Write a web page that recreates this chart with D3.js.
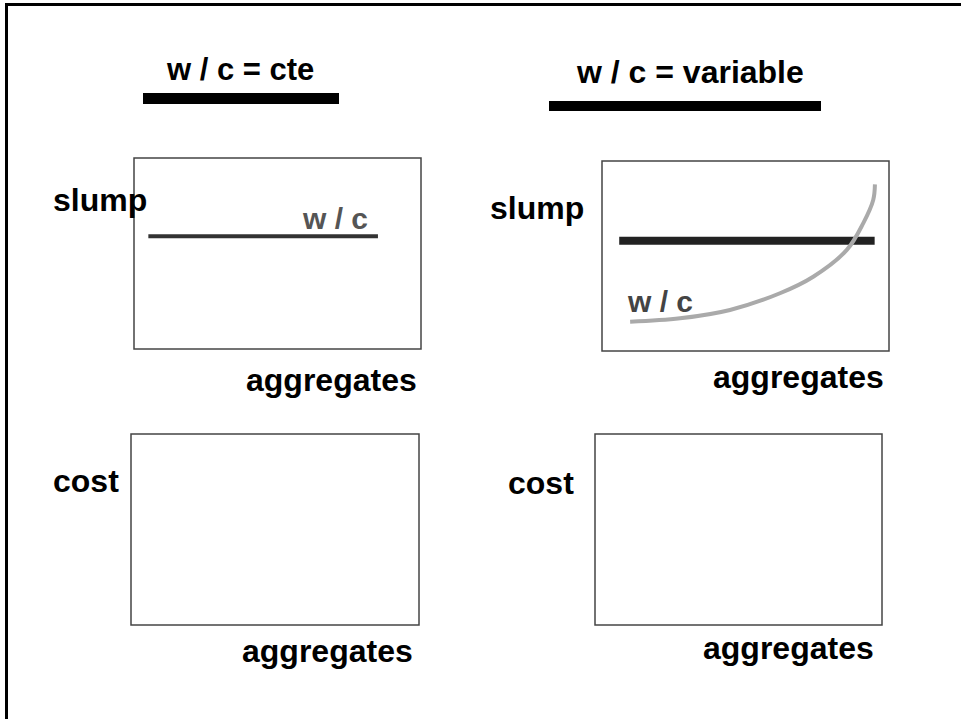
<!DOCTYPE html>
<html>
<head>
<meta charset="utf-8">
<script src="https://cdn.jsdelivr.net/npm/d3@7"></script>
<style>
  body { margin: 0; background: #fff; }
  text { font-family: "Liberation Sans", Arial, sans-serif; font-weight: bold; }
</style>
</head>
<body>
<div id="chart"></div>
<script>
////////////////////////////////////////////////////////////////////////
// Data (axes are unitless: aggregates 0-100, slump 0-100)

let columnTitles = ["w / c = cte", "w / c = variable"];
let rowLabels = ["slump", "cost"];
let xLabel = "aggregates";
let curveLabel = "w / c";

// left column: w/c constant, slump stays flat
let constSlumpLine = [[5, 59], [85, 59]];

// right column: target slump level and the w/c needed to keep it
let targetSlumpLine = [[6, 58], [95, 58]];
let variableWcCurve = [
  [9.8, 15.4], [27.2, 17.2], [44.6, 21.6], [62.0, 30.4],
  [73.6, 39.1], [85.3, 53.2], [91.0, 67.2], [94.5, 79.5], [95.1, 87.7]
];

////////////////////////////////////////////////////////////////////////
// Layout

let width = 961, height = 719;

let svg = d3.select("#chart").append("svg")
  .attr("width", width).attr("height", height);

// outer frame (only left and top edges fall inside the page)
svg.append("rect")
  .attr("x", 6.5).attr("y", 4.5)
  .attr("width", 1200).attr("height", 1200)
  .attr("fill", "none").attr("stroke", "#000").attr("stroke-width", 3);

// column headings with their thick underline bars
let heads = [
  {tx: 167, ty: 80, size: 31, bar: [143, 93, 196, 11]},
  {tx: 577, ty: 83, size: 32, bar: [549, 101, 272, 10]}
];
heads.forEach(function(h, i) {
  svg.append("text").attr("x", h.tx).attr("y", h.ty)
    .style("font-size", h.size + "px").text(columnTitles[i]);
  svg.append("rect")
    .attr("x", h.bar[0]).attr("y", h.bar[1])
    .attr("width", h.bar[2]).attr("height", h.bar[3])
    .attr("fill", "#000");
});

// one entry per panel: frame box, y label spot, x label spot
let panels = [
  {col: 0, row: 0, box: [134, 158, 421, 349], yl: [53, 211], xl: [246, 391]},
  {col: 1, row: 0, box: [602, 161, 889, 351], yl: [490, 219], xl: [713, 388]},
  {col: 0, row: 1, box: [131, 434, 419, 625], yl: [53, 492], xl: [242, 662]},
  {col: 1, row: 1, box: [595, 434, 882, 625], yl: [508, 494], xl: [703, 659]}
];

panels.forEach(function(p) {
  p.x = d3.scaleLinear().domain([0, 100]).range([p.box[0], p.box[2]]);
  p.y = d3.scaleLinear().domain([0, 100]).range([p.box[3], p.box[1]]);

  svg.append("rect")
    .attr("x", p.box[0]).attr("y", p.box[1])
    .attr("width", p.box[2] - p.box[0]).attr("height", p.box[3] - p.box[1])
    .attr("fill", "none").attr("stroke", "#444").attr("stroke-width", 1.5);
});

let line = function(p) {
  return d3.line().x(function(d) { return p.x(d[0]); }).y(function(d) { return p.y(d[1]); });
};

// slump, w/c constant
let p1 = panels[0];
svg.append("path")
  .attr("d", line(p1)(constSlumpLine))
  .attr("fill", "none").attr("stroke", "#333").attr("stroke-width", 4);
svg.append("text").attr("x", 303).attr("y", 229)
  .style("font-size", "30px").attr("fill", "#555").text(curveLabel);

// slump, w/c variable
let p2 = panels[1];
svg.append("path")
  .attr("d", line(p2)(targetSlumpLine))
  .attr("fill", "none").attr("stroke", "#222").attr("stroke-width", 8);
svg.append("path")
  .attr("d", line(p2).curve(d3.curveCatmullRom)(variableWcCurve))
  .attr("fill", "none").attr("stroke", "#aaa").attr("stroke-width", 4);
svg.append("text").attr("x", 628).attr("y", 312)
  .style("font-size", "30px").attr("fill", "#444").text(curveLabel);

// axis labels
panels.forEach(function(p) {
  svg.append("text").attr("x", p.yl[0]).attr("y", p.yl[1])
    .style("font-size", "32px").text(rowLabels[p.row]);
  svg.append("text").attr("x", p.xl[0]).attr("y", p.xl[1])
    .style("font-size", "32px").text(xLabel);
});
</script>
</body>
</html>
